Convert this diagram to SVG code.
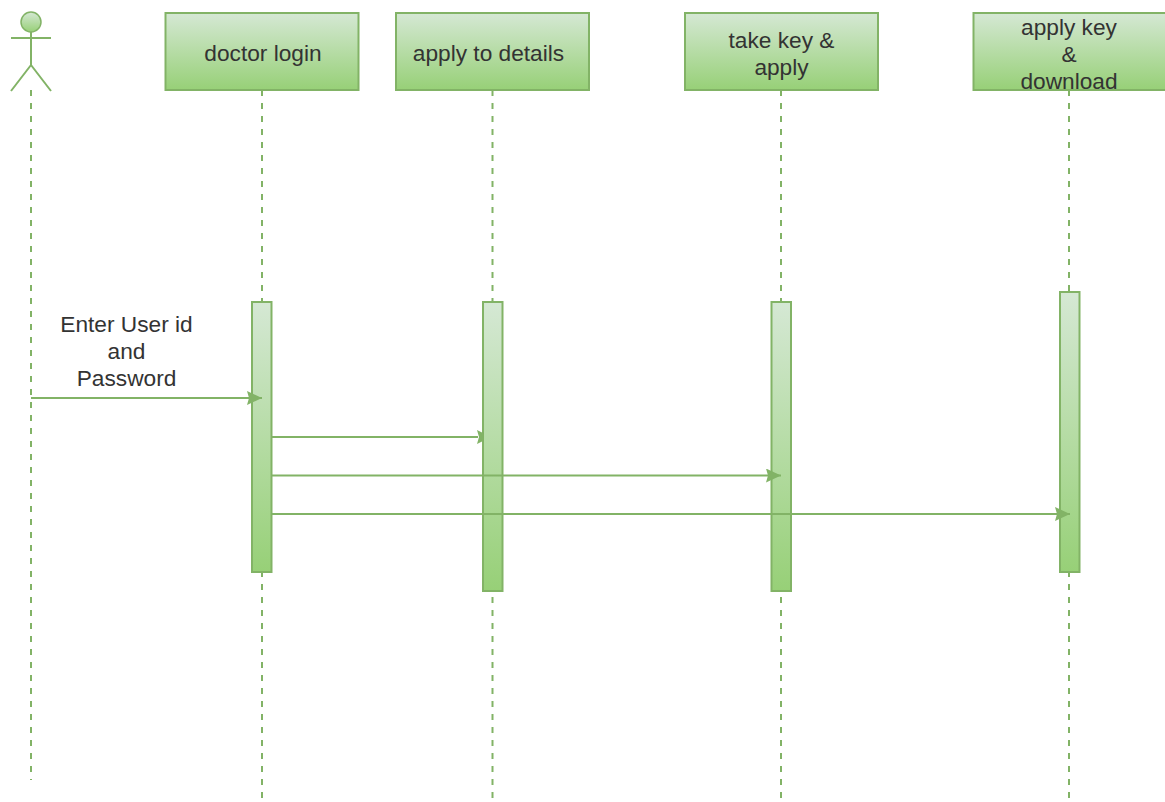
<svg xmlns="http://www.w3.org/2000/svg" width="1165" height="802" viewBox="0 0 1165 802">
<style>
.box{fill:url(#g);stroke:#82b366;stroke-width:2}
.life{fill:none;stroke:#82b366;stroke-width:2;stroke-dasharray:6 7}
.fig{fill:none;stroke:#82b366;stroke-width:2}
.line{fill:none;stroke:#82b366;stroke-width:2}
.msg{fill:none;stroke:#82b366;stroke-width:2;marker-end:url(#a)}
.head{fill:#82b366}
text{font-family:"Liberation Sans",Arial,sans-serif;font-size:22.700px;fill:#333;text-anchor:middle}
</style>
<defs>
<linearGradient id="g" x1="0" y1="0" x2="0" y2="1"><stop offset="0" stop-color="#d5e8d4"/><stop offset="1" stop-color="#97d077"/></linearGradient>
<marker id="a" markerUnits="userSpaceOnUse" markerWidth="16" markerHeight="16" refX="15" refY="7" orient="auto"><path class="head" d="M0 0L15 7L0 14L2 7Z"/></marker>
</defs>
<rect width="1165" height="802" fill="#fff"/>
<g id="actor">
<path class="life" d="M31 90V780"/>
<circle cx="31" cy="22" r="10" fill="url(#g)" stroke="#82b366" stroke-width="1.500"/>
<path class="fig" d="M31 32V65M11 38H51M31 65L11 91M31 65L51 91"/>
</g>
<g id="doctor-login">
<path class="life" d="M262 90V800"/>
<rect class="box" x="165.500" y="13" width="193" height="77"/>
<text x="263" y="61">doctor login</text>
<rect class="box" x="252" y="302" width="19.500" height="270"/>
</g>
<g id="apply-to-details">
<path class="life" d="M492.500 90V802"/>
<rect class="box" x="396" y="13" width="193" height="77"/>
<text x="488.500" y="61">apply to details</text>
<rect class="box" x="483" y="302" width="19.500" height="289"/>
</g>
<g id="take-key-apply">
<path class="life" d="M781 90V802"/>
<rect class="box" x="685" y="13" width="193" height="77"/>
<text x="781.500" y="48">take key &amp;</text>
<text x="781.500" y="75">apply</text>
<rect class="box" x="771.500" y="302" width="19.500" height="289"/>
</g>
<g id="apply-key-download">
<path class="life" d="M1069 90V802"/>
<rect class="box" x="973.500" y="13" width="193" height="77"/>
<text x="1069" y="34.500">apply key</text>
<text x="1069" y="61.500">&amp;</text>
<text x="1069" y="88.500">download</text>
<rect class="box" x="1060" y="292" width="19.500" height="280"/>
</g>
<g id="connectors">
<path class="msg" d="M31 398H262"/>
<path class="line" d="M272 437H478"/>
<path class="head" d="M477 430L484 433.500V440.500L477 444L479 437Z"/>
<path class="msg" d="M272 475.500H781"/>
<path class="msg" d="M272 514H1070"/>
</g>
<text x="126.500" y="331.500">Enter User id</text>
<text x="126.500" y="358.500">and</text>
<text x="126.500" y="385.500">Password</text>
</svg>
